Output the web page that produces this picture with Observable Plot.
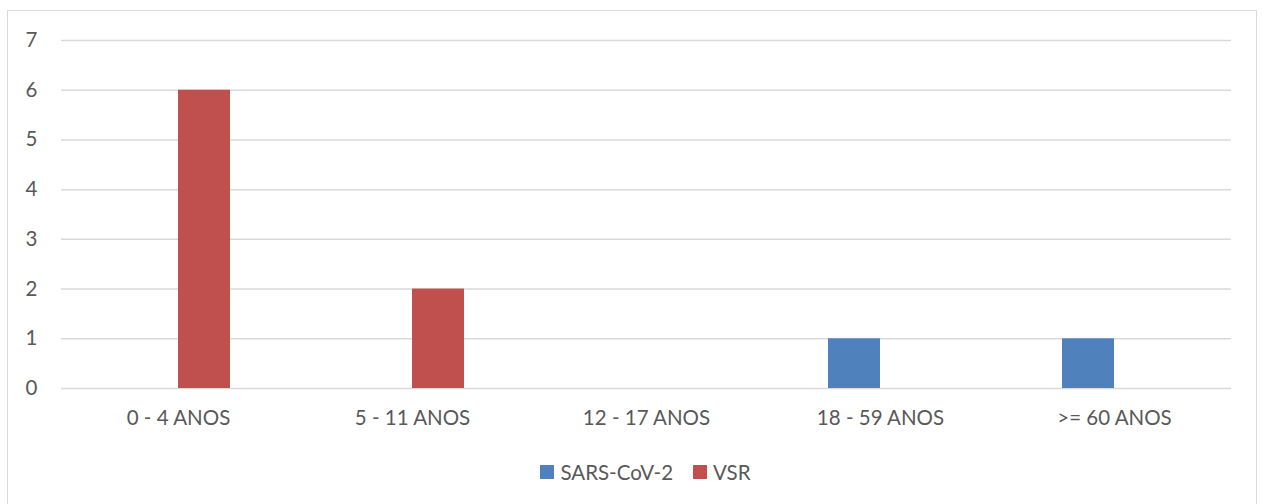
<!DOCTYPE html>
<html>
<head>
<meta charset="utf-8">
<script src="https://cdn.jsdelivr.net/npm/d3@7"></script>
<script src="https://cdn.jsdelivr.net/npm/@observablehq/plot@0.6"></script>
<style>
  html, body { margin: 0; padding: 0; background: #fff; }
  #wrap { position: relative; width: 1262px; height: 504px; overflow: hidden; font-family: Lato, "Liberation Sans", sans-serif; }
  #frame { position: absolute; left: 7px; top: 10px; width: 1250px; height: 520px; box-sizing: border-box; border: 1.5px solid #d9d9d9; }
  #chart { position: absolute; left: 0; top: 0; }
  #legend { position: absolute; left: 60px; width: 1171px; top: 459px; text-align: center; font-size: 20.5px; color: #595959; }
  .item { display: inline-flex; align-items: center; margin: 0 10px; }
  .sw { display: inline-block; width: 14px; height: 14px; margin-right: 6px; }
</style>
</head>
<body>
<div id="wrap">
  <div id="frame"></div>
  <div id="chart"></div>
  <div id="legend"></div>
</div>
<script>
const categories = ["0 - 4 ANOS", "5 - 11 ANOS", "12 - 17 ANOS", "18 - 59 ANOS", ">= 60 ANOS"];
const series = ["SARS-CoV-2", "VSR"];
const sarsValues = [0, 0, 0, 1, 1];
const vsrValues = [6, 2, 0, 0, 0];
const yTicks = [0, 1, 2, 3, 4, 5, 6, 7];
const colors = ["#4F81BD", "#C0504D"];

const data = categories.flatMap((c, i) => [
  {cat: c, s: series[0], v: sarsValues[i]},
  {cat: c, s: series[1], v: vsrValues[i]}
]);

const chart = Plot.plot({
  width: 1262,
  height: 450,
  marginLeft: 60,
  marginRight: 31,
  marginTop: 40,
  marginBottom: 62,
  style: {fontFamily: "Lato, 'Liberation Sans', sans-serif", fontSize: "20.5px", color: "#595959", background: "transparent"},
  fx: {domain: categories, padding: 0, label: null, axis: "bottom", tickSize: 0, tickPadding: 22},
  x: {domain: series, paddingInner: 0, paddingOuter: 1.23, axis: null},
  y: {domain: [0, 7], ticks: yTicks, tickFormat: "d", label: null, tickSize: 0, tickPadding: 24},
  color: {domain: series, range: colors},
  marks: [
    Plot.ruleY(yTicks, {stroke: "#d9d9d9", strokeWidth: 1.5}),
    Plot.barY(data, {fx: "cat", x: "s", y: "v", fill: "s"})
  ]
});
document.getElementById("chart").appendChild(chart);

const legend = document.getElementById("legend");
series.forEach((s, i) => {
  const item = document.createElement("span");
  item.className = "item";
  const sw = document.createElement("span");
  sw.className = "sw";
  sw.style.background = colors[i];
  item.appendChild(sw);
  item.appendChild(document.createTextNode(s));
  legend.appendChild(item);
});
</script>
</body>
</html>
